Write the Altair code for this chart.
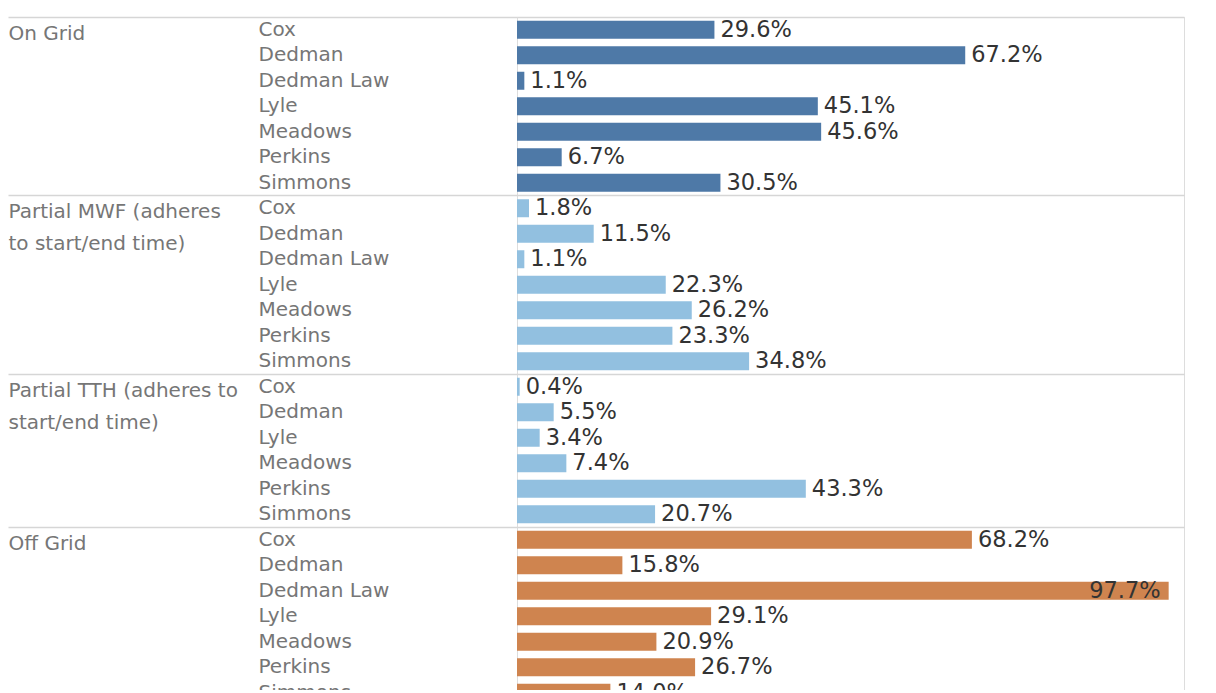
import json
import altair as alt
import pandas as pd

# ---------------- data ----------------
groups = [
    "On Grid",
    "Partial MWF (adheres to start/end time)",
    "Partial TTH (adheres to start/end time)",
    "Off Grid",
]
group_lines = [
    ["On Grid"],
    ["Partial MWF (adheres", "to start/end time)"],
    ["Partial TTH (adheres to", "start/end time)"],
    ["Off Grid"],
]

on_grid_schools = ["Cox", "Dedman", "Dedman Law", "Lyle", "Meadows", "Perkins", "Simmons"]
on_grid_values = [29.6, 67.2, 1.1, 45.1, 45.6, 6.7, 30.5]

mwf_schools = ["Cox", "Dedman", "Dedman Law", "Lyle", "Meadows", "Perkins", "Simmons"]
mwf_values = [1.8, 11.5, 1.1, 22.3, 26.2, 23.3, 34.8]

tth_schools = ["Cox", "Dedman", "Lyle", "Meadows", "Perkins", "Simmons"]
tth_values = [0.4, 5.5, 3.4, 7.4, 43.3, 20.7]

off_grid_schools = ["Cox", "Dedman", "Dedman Law", "Lyle", "Meadows", "Perkins", "Simmons"]
off_grid_values = [68.2, 15.8, 97.7, 29.1, 20.9, 26.7, 14.0]

group_colors = ["#4e79a7", "#92c0e0", "#92c0e0", "#cf844f"]

# ---------------- table ----------------
school_lists = [on_grid_schools, mwf_schools, tth_schools, off_grid_schools]
value_lists = [on_grid_values, mwf_values, tth_values, off_grid_values]

rows = []
key_order = []
group_first_keys = []
for g, schools, vals in zip(groups, school_lists, value_lists):
    for i, (s, v) in enumerate(zip(schools, vals)):
        k = f"{g}|{s}"
        key_order.append(k)
        if i == 0:
            group_first_keys.append(k)
        rows.append({"group": g, "school": s, "key": k, "value": v})
df = pd.DataFrame(rows)

group_expr = ""
for g, lines in zip(groups, group_lines):
    group_expr += f"split(datum.value, '|')[0] == '{g}' ? {json.dumps(lines)} : "
group_expr += "''"

line_color = "#d6d6d6"
label_gray = "#767676"
font = "DejaVu Sans"

y_scale = alt.Scale(domain=key_order, range=[0, 688.5], paddingInner=0, paddingOuter=0)

base = alt.Chart(df).transform_calculate(
    label="format(datum.value, '.1f') + '%'"
).encode(
    x=alt.X("value:Q", scale=alt.Scale(domain=[0, 100]), axis=None),
)

# bars + school labels axis
bars = base.mark_bar(size=18, clip=True).encode(
    y=alt.Y(
        "key:N",
        scale=y_scale,
        axis=alt.Axis(
            orient="left", title=None, ticks=False, tickSize=0, domain=False, grid=False,
            labelExpr="split(datum.value, '|')[1]", labelAlign="left", labelPadding=259,
            labelFont=font, labelFontSize=20, labelColor=label_gray,
            labelLimit=400, labelOverlap=False,
        ),
    ),
    color=alt.Color("group:N", scale=alt.Scale(domain=groups, range=group_colors), legend=None),
)

# value labels outside bars + group labels axis
outside = base.transform_filter("datum.value < 90").mark_text(
    align="left", baseline="middle", dx=6, font=font, fontSize=22.5,
    color="#333333", clip=True,
).encode(
    y=alt.Y(
        "key:N",
        scale=y_scale,
        axis=alt.Axis(
            orient="left", title=None, values=group_first_keys,
            ticks=False, tickSize=0, grid=False, domain=False,
            labelExpr=group_expr, labelAlign="left", labelBaseline="top", labelOffset=-6,
            labelPadding=509, labelLineHeight=32, labelFont=font, labelFontSize=20,
            labelColor=label_gray, labelLimit=500, labelOverlap=False,
        ),
    ),
    text="label:N",
)

# value labels inside long bars + group separator axis
inside = base.transform_filter("datum.value >= 90").mark_text(
    align="right", baseline="middle", dx=-8, font=font, fontSize=22.5,
    color="#333333", clip=True,
).encode(
    y=alt.Y(
        "key:N",
        scale=y_scale,
        axis=alt.Axis(
            orient="left", title=None, values=group_first_keys, labels=False,
            bandPosition=0, tickExtra=False,
            ticks=True, tickSize=509, tickColor=line_color, tickWidth=1.5,
            grid=True, gridColor=line_color, gridWidth=1.5, domain=False,
        ),
    ),
    text="label:N",
)

chart = alt.layer(bars, outside, inside).resolve_axis(y="independent").properties(
    width=667,
    height=673,
    autosize=alt.AutoSizeParams(type="none"),
    padding={"left": 509, "top": 9, "right": 16, "bottom": 0},
).configure_view(stroke=line_color, strokeWidth=1.5).configure(background="white")

chart.save("out.html", embed_options={"renderer": "svg", "actions": False})
